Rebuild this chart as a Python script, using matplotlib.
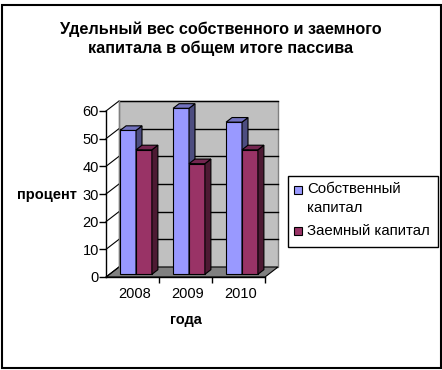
import matplotlib
matplotlib.use("Agg")
import matplotlib.pyplot as plt
from matplotlib.patches import Polygon, Rectangle

# ---- data ----
years = ["2008", "2009", "2010"]
own_capital = [52, 60, 55]
borrowed_capital = [45, 40, 45]
series_names = ["Собственный", "капитал", "Заемный капитал"]
y_ticks = [0, 10, 20, 30, 40, 50, 60]
title = "Удельный вес собственного и заемного\nкапитала в общем итоге пассива"
y_label = "процент"
x_label = "года"

# ---- style ----
W, H = 442, 370
FONT = "Liberation Sans"
plt.rcParams["font.family"] = [FONT, "DejaVu Sans"]
front = ["#9999FF", "#993366"]
side = ["#4D4D80", "#4D1A33"]
top = ["#7373BF", "#732650"]

fig = plt.figure(figsize=(W / 100, H / 100), dpi=100)

def fx(px):
    return px / W

def fy(py):
    return 1 - py / H

# axes: front floor from x=106..265 px, y=277 (0) .. 111 (60)
ax = fig.add_axes([fx(106), fy(277), fx(265) - fx(106), fy(111) - fy(277)])
ax.set_xlim(0.5, 3.5)
ax.set_ylim(0, 60)
px_per_x = (265 - 106) / 3.0
px_per_y = (277 - 111) / 60.0
DX = 13 / px_per_x
DY = 10 / px_per_y

ax.patch.set_visible(False)
for s in ["top", "right"]:
    ax.spines[s].set_visible(False)
ax.spines["left"].set_linewidth(1)
ax.spines["bottom"].set_linewidth(1)
ax.spines["left"].set_zorder(20)
ax.spines["bottom"].set_zorder(20)

# back wall
x0, x1 = 0.5, 3.5
ax.add_patch(Polygon([(x0 + DX, DY), (x1 + DX, DY), (x1 + DX, 60 + DY), (x0 + DX, 60 + DY)],
                     closed=True, facecolor="#C0C0C0", edgecolor="#808080", lw=1,
                     clip_on=False, zorder=1))
# floor
ax.add_patch(Polygon([(x0, 0), (x1, 0), (x1 + DX, DY), (x0 + DX, DY)],
                     closed=True, facecolor="#808080", edgecolor="#000000", lw=0.8,
                     clip_on=False, zorder=2))
# gridlines on back wall and left wall diagonals
for v in y_ticks:
    if v > 0:
        ax.plot([x0 + DX, x1 + DX], [v + DY, v + DY], color="black", lw=1,
                clip_on=False, zorder=3)
    ax.plot([x0, x0 + DX], [v, v + DY], color="black", lw=0.8, clip_on=False, zorder=3)
ax.plot([x0 + DX, x0 + DX], [DY, 60 + DY], color="#808080", lw=1, clip_on=False, zorder=3)

# bars
zf, zb = 0.27, 0.73
bw = 0.30
z = 5
positions = [1, 2, 3]
for i, pos in enumerate(positions):
    for k, vals in enumerate([own_capital, borrowed_capital]):
        v = vals[i]
        xl = pos - bw + k * bw
        xr = xl + bw
        ax.bar(xl + zf * DX, v, width=bw, bottom=zf * DY, align="edge",
               color=front[k], edgecolor="black", lw=0.8, zorder=z, clip_on=False)
        ax.add_patch(Polygon([(xr + zf * DX, zf * DY), (xr + zb * DX, zb * DY),
                              (xr + zb * DX, v + zb * DY), (xr + zf * DX, v + zf * DY)],
                             closed=True, facecolor=side[k], edgecolor="black", lw=0.8,
                             clip_on=False, zorder=z))
        ax.add_patch(Polygon([(xl + zf * DX, v + zf * DY), (xr + zf * DX, v + zf * DY),
                              (xr + zb * DX, v + zb * DY), (xl + zb * DX, v + zb * DY)],
                             closed=True, facecolor=top[k], edgecolor="black", lw=0.8,
                             clip_on=False, zorder=z))
        z += 1

# ticks
ax.set_yticks(y_ticks)
ax.set_yticklabels([str(t) for t in y_ticks], fontsize=10.5)
ax.tick_params(axis="y", direction="out", length=5, width=1, pad=0)
ax.set_xticks([1.5, 2.5, 3.5])
ax.set_xticklabels([])
ax.tick_params(axis="x", direction="out", length=4, width=1)
for pos, lab in zip(positions, years):
    ax.text(pos + 0.04, -6.0, lab, ha="center", va="center", fontsize=10.5)

# title and axis labels
fig.text(fx(221), fy(38.5), title, ha="center", va="center", fontsize=11.7, fontweight="bold",
         linespacing=1.25)
fig.text(fx(47), fy(195), y_label, ha="center", va="center", fontsize=10.5, fontweight="bold")
fig.text(fx(186), fy(320), x_label, ha="center", va="center", fontsize=10.5, fontweight="bold")

# legend
fig.patches.append(Rectangle((fx(288), fy(247)), fx(438) - fx(288), fy(176) - fy(247),
                             transform=fig.transFigure, facecolor="white", edgecolor="black",
                             lw=1))
legend_y = [189, 208, 231]
marker_rows = [(0, 189.5), (1, 231)]
for k, sy in marker_rows:
    fig.patches.append(Rectangle((fx(294), fy(sy + 4)), fx(8), 8 / H,
                                 transform=fig.transFigure, facecolor=front[k],
                                 edgecolor="black", lw=0.8))
for name, ly in zip(series_names, legend_y):
    fig.text(fx(307), fy(ly), name, ha="left", va="center", fontsize=10.8)

# outer border
fig.patches.append(Rectangle((fx(1.5), fy(368)), fx(441) - fx(1.5), fy(5) - fy(368),
                             transform=fig.transFigure, facecolor="none", edgecolor="black",
                             lw=1.5))

fig.savefig("out.png", dpi=100)
